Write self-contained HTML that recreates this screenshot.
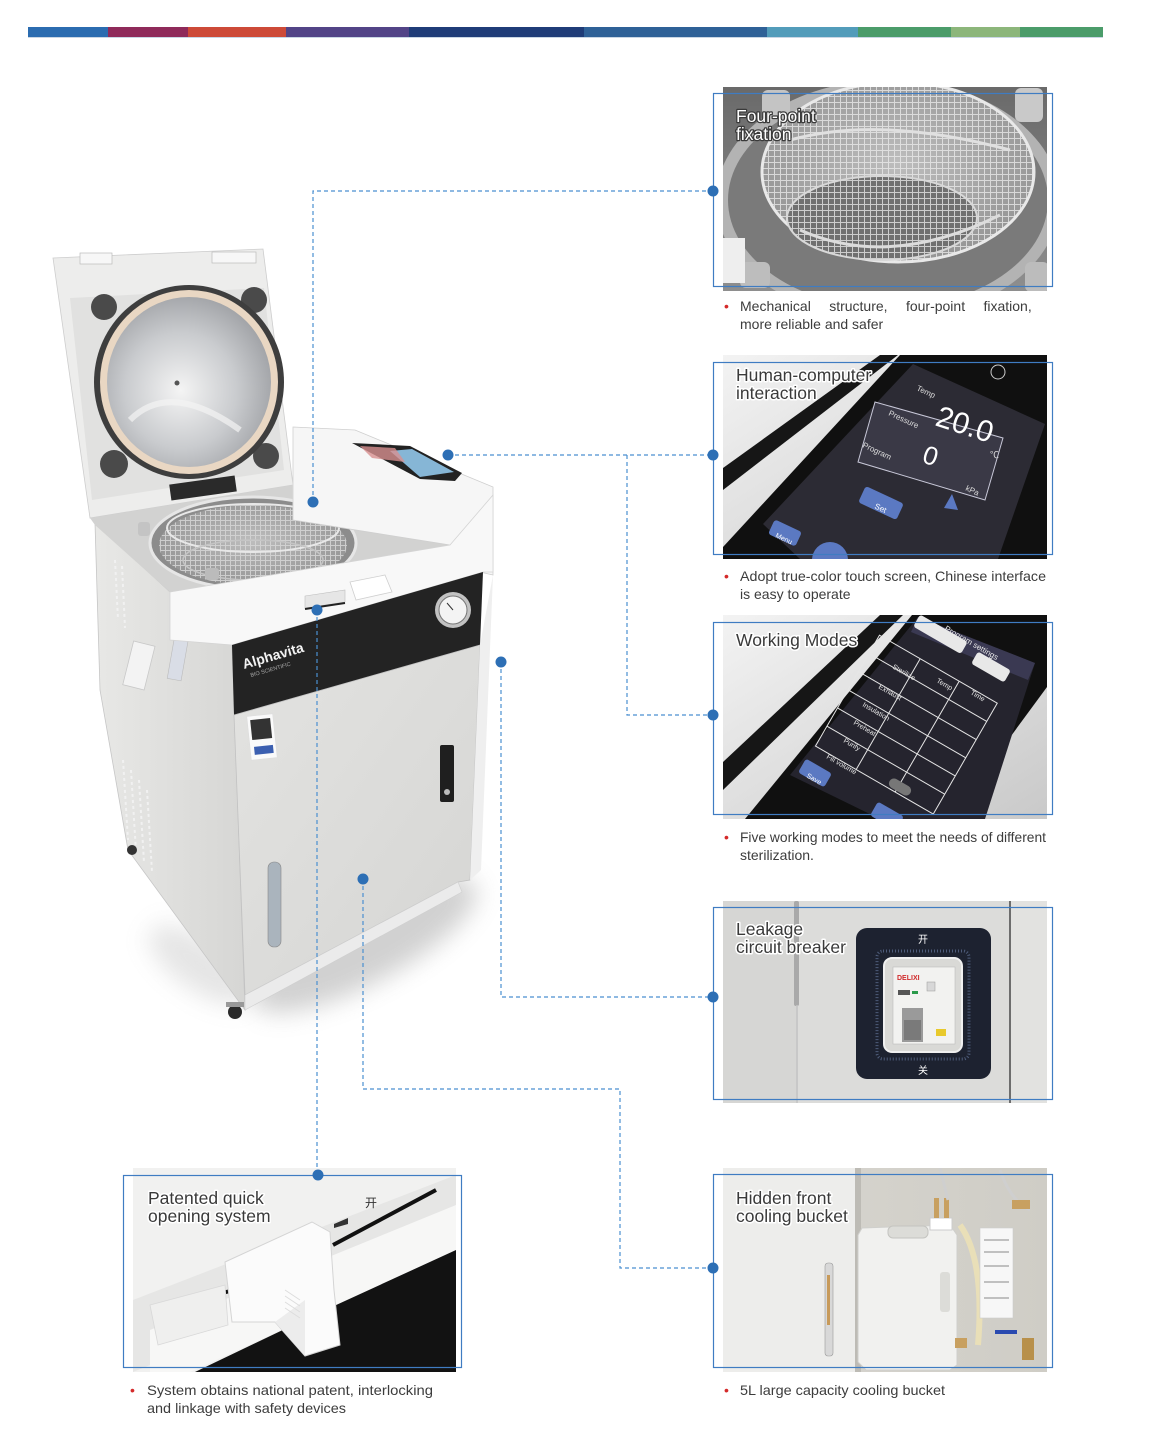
<!DOCTYPE html>
<html><head><meta charset="utf-8"><style>
html,body{margin:0;padding:0;background:#fff;}
svg{display:block;}
text{font-family:"Liberation Sans","Noto Sans CJK SC",sans-serif;}
</style></head><body>
<svg width="1151" height="1446" viewBox="0 0 1151 1446" xmlns="http://www.w3.org/2000/svg">
<defs>
<clipPath id="p1"><rect x="723" y="87" width="324" height="204"/></clipPath>
<clipPath id="p2"><rect x="723" y="355" width="324" height="204"/></clipPath>
<clipPath id="p3"><rect x="723" y="615" width="324" height="204"/></clipPath>
<clipPath id="p4"><rect x="723" y="901" width="324" height="202"/></clipPath>
<clipPath id="p5"><rect x="723" y="1168" width="324" height="204"/></clipPath>
<clipPath id="p6"><rect x="133" y="1168" width="323" height="204"/></clipPath>
<pattern id="mesh" width="6" height="6" patternUnits="userSpaceOnUse"><path d="M0 .5H6M.5 0V6" stroke="#ececec" stroke-width="1" fill="none" opacity=".75"/></pattern>
<pattern id="mesh2" width="5" height="5" patternUnits="userSpaceOnUse"><path d="M0 .5H5M.5 0V5" stroke="#d6d6d6" stroke-width="1" fill="none" opacity=".85"/></pattern>
<radialGradient id="win" cx="45%" cy="55%" r="62%"><stop offset="0" stop-color="#f4f4f4"/><stop offset=".55" stop-color="#c9cbce"/><stop offset="1" stop-color="#9a9ca0"/></radialGradient>
<radialGradient id="bask" cx="50%" cy="45%" r="60%"><stop offset="0" stop-color="#bdbdbd"/><stop offset="1" stop-color="#929292"/></radialGradient>
<linearGradient id="g2" x1="0" y1="0" x2="1" y2="1"><stop offset="0" stop-color="#f3f3f3"/><stop offset="1" stop-color="#c9c9c9"/></linearGradient>
<linearGradient id="side" x1="0" y1="0" x2="1" y2="0"><stop offset="0" stop-color="#e8e8e6"/><stop offset="1" stop-color="#d6d6d4"/></linearGradient>
<linearGradient id="door" x1="0" y1="0" x2="1" y2="1"><stop offset="0" stop-color="#e3e3e1"/><stop offset="1" stop-color="#d5d5d3"/></linearGradient>
<linearGradient id="p1bg" x1="0" y1="0" x2="0" y2="1"><stop offset="0" stop-color="#6a6a6a"/><stop offset="1" stop-color="#8e8e8e"/></linearGradient>
<linearGradient id="p5r" x1="0" y1="0" x2="1" y2="0"><stop offset="0" stop-color="#d8d6d0"/><stop offset="1" stop-color="#cfcdc6"/></linearGradient>
<filter id="bl" x="-50%" y="-50%" width="200%" height="200%"><feGaussianBlur stdDeviation="12"/></filter>
</defs>

<!-- top color bar -->
<rect x="28" y="27" width="80" height="10" fill="#2b6cb0"/>
<rect x="108" y="27" width="80" height="10" fill="#8f2a5a"/>
<rect x="188" y="27" width="98" height="10" fill="#cd4a38"/>
<rect x="286" y="27" width="123" height="10" fill="#524487"/>
<rect x="409" y="27" width="175" height="10" fill="#1f3c78"/>
<rect x="584" y="27" width="183" height="10" fill="#2f6197"/>
<rect x="767" y="27" width="91" height="10" fill="#529cba"/>
<rect x="858" y="27" width="93" height="10" fill="#4b9c6a"/>
<rect x="951" y="27" width="69" height="10" fill="#8cb67a"/>
<rect x="1020" y="27" width="83" height="10" fill="#4b9c6a"/>
<rect x="28" y="37" width="1075" height="1" fill="#c9d6e4"/>

<!-- ================= MAIN AUTOCLAVE ================= -->
<ellipse cx="365" cy="945" rx="125" ry="38" transform="rotate(-28 365 945)" fill="#9a9a9a" opacity=".45" filter="url(#bl)"/>
<ellipse cx="200" cy="965" rx="60" ry="25" transform="rotate(35 200 965)" fill="#aaa" opacity=".3" filter="url(#bl)"/>
<!-- lid -->
<polygon points="53,258 263,249 293,485 90,518" fill="#ededec" stroke="#cdcdcd" stroke-width=".8"/>
<polygon points="70,298 264,288 284,470 92,500" fill="#e1e1e0"/>
<rect x="80" y="253" width="32" height="11" fill="#f7f7f7" stroke="#bbb" stroke-width=".7"/>
<rect x="212" y="252" width="44" height="11" fill="#f7f7f7" stroke="#bbb" stroke-width=".7"/>
<circle cx="104" cy="307" r="13" fill="#4a4a4a"/>
<circle cx="254" cy="300" r="13" fill="#4a4a4a"/>
<circle cx="114" cy="464" r="14" fill="#4a4a4a"/>
<circle cx="266" cy="456" r="13" fill="#4a4a4a"/>
<ellipse cx="189" cy="382" rx="95" ry="97" fill="#3e3e3e"/>
<ellipse cx="189" cy="382" rx="89" ry="92" fill="#e9d7c3"/>
<ellipse cx="189" cy="382" rx="82" ry="85" fill="url(#win)"/>
<path d="M130 420 Q170 380 240 430" stroke="#f4f4f4" stroke-width="6" fill="none" opacity=".7"/>
<circle cx="177" cy="383" r="2.5" fill="#555"/>
<rect x="170" y="480" width="66" height="16" fill="#2a2a2a" transform="rotate(-8 203 488)"/>
<!-- side -->
<polygon points="95,523 170,592 232,645 245,1010 128,850 100,690" fill="url(#side)" stroke="#c6c6c6" stroke-width=".8"/>
<rect x="128" y="643" width="22" height="45" transform="rotate(14 139 665)" fill="#f3f3f3" stroke="#c8c8c8" stroke-width=".8"/>
<rect x="172" y="625" width="14" height="55" transform="rotate(10 179 652)" fill="#d9dde6" stroke="#bbb" stroke-width=".6"/>
<g stroke="#f1f1f1" stroke-width="2" stroke-dasharray="3 3">
<line x1="123" y1="760" x2="128" y2="840"/><line x1="131" y1="770" x2="136" y2="852"/><line x1="139" y1="780" x2="144" y2="862"/><line x1="147" y1="790" x2="152" y2="872"/>
<line x1="115" y1="560" x2="118" y2="620"/><line x1="122" y1="566" x2="125" y2="628"/>
</g>
<!-- deck -->
<polygon points="90,518 293,485 293,520 450,545 170,592 95,525" fill="#d2d2d1"/>
<ellipse cx="253" cy="543" rx="103" ry="46" fill="#8c8c8c" stroke="#e6e6e6" stroke-width="3"/>
<ellipse cx="253" cy="545" rx="94" ry="40" fill="url(#bask)"/>
<ellipse cx="253" cy="545" rx="94" ry="40" fill="url(#mesh2)"/>
<ellipse cx="253" cy="528" rx="86" ry="24" fill="none" stroke="#e8e8e8" stroke-width="2"/>
<ellipse cx="253" cy="560" rx="70" ry="20" fill="none" stroke="#c4c4c4" stroke-width="1.5"/>
<rect x="205" y="568" width="14" height="12" rx="3" fill="#bbb"/>
<rect x="138" y="522" width="12" height="14" rx="3" fill="#c4c4c4"/>
<!-- control box -->
<polygon points="293,427 355,430 493,487 493,575 480,572 450,545 293,520" fill="#f6f6f6" stroke="#cfcfcf" stroke-width=".8"/>
<line x1="293" y1="427" x2="293" y2="520" stroke="#d8d8d8"/>
<polygon points="352,443 410,446 462,473 455,481 420,479" fill="#222"/>
<polygon points="390,451 412,449 454,472 420,477" fill="#86b6d6"/>
<polygon points="360,446 395,448 405,462 372,458" fill="#d89090" opacity=".8"/>
<!-- front lip -->
<polygon points="170,592 450,545 493,495 493,572 483,572 232,645 170,640" fill="#f8f8f8" stroke="#d4d4d4" stroke-width=".8"/>
<polygon points="305,596 345,590 345,602 305,608" fill="#e6e6e6" stroke="#bdbdbd" stroke-width=".6"/>
<polygon points="350,582 385,575 392,592 356,600" fill="#fff" stroke="#cfcfcf" stroke-width=".8"/>
<line x1="305" y1="609" x2="345" y2="603" stroke="#222" stroke-width="2"/>
<!-- black band -->
<polygon points="232,645 483,572 480,645 234,715" fill="#232323"/>
<text x="244" y="669" transform="rotate(-16 244 669)" fill="#f2f2f2" font-size="14" font-weight="bold">Alphavita</text>
<text x="251" y="677" transform="rotate(-16 251 677)" fill="#aaa" font-size="5.5">BIO SCIENTIFIC</text>
<circle cx="453" cy="610" r="18" fill="#c2c2c2"/>
<circle cx="453" cy="610" r="14" fill="#f4f4f4" stroke="#777" stroke-width="1"/>
<line x1="453" y1="610" x2="447" y2="603" stroke="#333" stroke-width="1"/>
<!-- front door -->
<polygon points="234,715 480,645 470,880 458,882 245,995" fill="url(#door)" stroke="#c2c2c2" stroke-width=".8"/>
<polygon points="480,645 493,575 481,870 470,880" fill="#efefef"/>
<polygon points="245,995 458,882 462,892 245,1010" fill="#ebebeb" stroke="#cfcfcf" stroke-width=".6"/>
<rect x="249" y="715" width="26" height="44" fill="#fafafa" stroke="#ddd" stroke-width=".6" transform="rotate(-6 262 737)"/>
<rect x="252" y="719" width="20" height="20" fill="#333" transform="rotate(-6 262 737)"/>
<rect x="253" y="746" width="19" height="8" fill="#3b5fb0" transform="rotate(-6 262 737)"/>
<rect x="440" y="745" width="14" height="57" rx="2" fill="#1f1f1f"/>
<circle cx="447" cy="792" r="3" fill="#bbb"/>
<rect x="268" y="862" width="13" height="85" rx="6" fill="#aab4bd" stroke="#888" stroke-width=".6"/>
<circle cx="132" cy="850" r="5" fill="#333"/>
<circle cx="235" cy="1012" r="7" fill="#2a2a2a"/>
<rect x="226" y="1002" width="18" height="5" fill="#999"/>

<!-- ================= PANEL 1 ================= -->
<g clip-path="url(#p1)">
<rect x="723" y="87" width="324" height="204" fill="url(#p1bg)"/>
<ellipse cx="888" cy="200" rx="172" ry="120" fill="#b3b3b3"/>
<ellipse cx="888" cy="200" rx="160" ry="108" fill="#7a7a7a"/>
<ellipse cx="898" cy="172" rx="136" ry="90" fill="url(#bask)" stroke="#e8e8e8" stroke-width="3"/>
<ellipse cx="898" cy="172" rx="136" ry="90" fill="url(#mesh)"/>
<ellipse cx="882" cy="218" rx="95" ry="42" fill="#707070"/>
<ellipse cx="882" cy="218" rx="95" ry="42" fill="url(#mesh)"/>
<ellipse cx="882" cy="218" rx="95" ry="42" fill="none" stroke="#d8d8d8" stroke-width="2"/>
<path d="M790 140 Q880 115 1010 150" stroke="#e0e0e0" stroke-width="3" fill="none"/>
<path d="M800 230 Q890 270 1000 215" stroke="#dcdcdc" stroke-width="3" fill="none"/>
<rect x="762" y="90" width="28" height="30" rx="6" fill="#c4c4c4"/>
<rect x="1015" y="88" width="28" height="34" rx="6" fill="#c9c9c9"/>
<rect x="740" y="262" width="30" height="26" rx="6" fill="#bdbdbd"/>
<rect x="1025" y="262" width="24" height="30" rx="6" fill="#bcbcbc"/>
<rect x="723" y="238" width="22" height="45" fill="#eeeeee"/>
</g>
<text x="736" y="122" font-size="17.5" fill="#fff" stroke="#3a3a3a" stroke-width="2.5" paint-order="stroke" stroke-linejoin="round">Four-point</text>
<text x="736" y="140" font-size="17.5" fill="#fff" stroke="#3a3a3a" stroke-width="2.5" paint-order="stroke" stroke-linejoin="round">fixation</text>

<!-- ================= PANEL 2 ================= -->
<g clip-path="url(#p2)">
<rect x="723" y="355" width="324" height="204" fill="url(#g2)"/>
<polygon points="723,468 880,355 898,355 723,490" fill="#161616"/>
<polygon points="723,559 723,547 900,355 1047,355 1047,559" fill="#101010"/>
<polygon points="913,364 1045,424 998,559 800,559 763,524" fill="#2c2b34"/>
<polygon points="875,402 1003,438 985,500 858,462" fill="#3a3946" stroke="#c8c8d8" stroke-width="1"/>
<text x="934" y="425" font-size="30" fill="#fff" transform="rotate(18 934 425)">20.0</text>
<text x="921" y="462" font-size="26" fill="#fff" transform="rotate(18 921 462)">0</text>
<text x="916" y="390" font-size="8" fill="#ddd" transform="rotate(25 916 390)">Temp</text>
<text x="888" y="415" font-size="8" fill="#ddd" transform="rotate(25 888 415)">Pressure</text>
<text x="862" y="447" font-size="8" fill="#ddd" transform="rotate(25 862 447)">Program</text>
<text x="965" y="490" font-size="8" fill="#ddd" transform="rotate(25 965 490)">kPa</text>
<text x="990" y="458" font-size="9" fill="#ddd">℃</text>
<rect x="860" y="494" width="42" height="18" rx="3" fill="#5b79c2" transform="rotate(25 881 503)"/>
<text x="874" y="508" font-size="8" fill="#fff" transform="rotate(25 874 508)">Set</text>
<rect x="770" y="525" width="30" height="16" rx="3" fill="#5b79c2" transform="rotate(25 785 533)"/>
<text x="775" y="537" font-size="7" fill="#fff" transform="rotate(25 775 537)">Menu</text>
<circle cx="830" cy="560" r="18" fill="#5b79c2"/>
<polygon points="944,508 952,494 958,510" fill="#5b79c2"/>
<circle cx="998" cy="372" r="7" fill="none" stroke="#ccc" stroke-width="1"/>
</g>
<text x="736" y="381" font-size="17.5" fill="#3a3a3a" stroke="#fff" stroke-width="3" paint-order="stroke" stroke-linejoin="round">Human-computer</text>
<text x="736" y="399" font-size="17.5" fill="#3a3a3a" stroke="#fff" stroke-width="3" paint-order="stroke" stroke-linejoin="round">interaction</text>

<!-- ================= PANEL 3 ================= -->
<g clip-path="url(#p3)">
<rect x="723" y="615" width="324" height="204" fill="url(#g2)"/>
<polygon points="723,762 880,615 903,615 723,790" fill="#161616"/>
<polygon points="745,819 912,615 1047,615 1047,687 950,819" fill="#101010"/>
<polygon points="918,617 1035,663 985,819 880,819 790,775" fill="#25242e"/>
<polygon points="918,617 1035,663 1028,680 911,632" fill="#3a3952"/>
<g transform="rotate(30 905 725)" stroke="#e6e6e6" stroke-width="1" fill="none">
<rect x="838" y="660" width="136" height="128"/>
<line x1="838" y1="681" x2="974" y2="681"/><line x1="838" y1="702" x2="974" y2="702"/>
<line x1="838" y1="723" x2="974" y2="723"/><line x1="838" y1="744" x2="974" y2="744"/>
<line x1="838" y1="765" x2="974" y2="765"/>
<line x1="885" y1="660" x2="885" y2="788"/><line x1="930" y1="660" x2="930" y2="788"/>
</g>
<g font-size="7" fill="#e8e8e8">
<text x="944" y="630" font-size="8" transform="rotate(30 944 630)">Program settings</text>
<text x="892" y="668" transform="rotate(30 892 668)">Sterilize</text>
<text x="878" y="688" transform="rotate(30 878 688)">Exhaust</text>
<text x="862" y="706" transform="rotate(30 862 706)">Insulation</text>
<text x="853" y="724" transform="rotate(30 853 724)">Preheat</text>
<text x="843" y="742" transform="rotate(30 843 742)">Purify</text>
<text x="826" y="758" transform="rotate(30 826 758)">Fill volume</text>
<text x="936" y="682" transform="rotate(30 936 682)">Temp</text>
<text x="970" y="694" transform="rotate(30 970 694)">Time</text>
</g>
<rect x="913" y="627" width="55" height="14" rx="3" fill="#e8e8e8" transform="rotate(30 940 634)"/>
<rect x="972" y="660" width="38" height="14" rx="3" fill="#e8e8e8" transform="rotate(30 991 667)"/>
<rect x="800" y="765" width="30" height="16" rx="3" fill="#5b79c2" transform="rotate(30 815 773)"/>
<text x="806" y="777" font-size="7" fill="#fff" transform="rotate(30 806 777)">Save</text>
<rect x="872" y="808" width="30" height="16" rx="3" fill="#5b79c2" transform="rotate(30 887 816)"/>
<rect x="888" y="782" width="24" height="10" rx="5" fill="#777" transform="rotate(30 900 787)"/>
</g>
<text x="736" y="646" font-size="17.5" fill="#3a3a3a" stroke="#fff" stroke-width="3" paint-order="stroke" stroke-linejoin="round">Working Modes</text>

<!-- ================= PANEL 4 ================= -->
<g clip-path="url(#p4)">
<rect x="723" y="901" width="324" height="202" fill="#dcdcda"/>
<rect x="723" y="901" width="75" height="202" fill="#d6d6d4"/>
<rect x="794" y="901" width="5" height="105" rx="2" fill="#a9a9a9"/>
<line x1="797" y1="1005" x2="797" y2="1103" stroke="#c4c4c4" stroke-width="1.5"/>
<line x1="1010" y1="901" x2="1010" y2="1103" stroke="#6d6d6d" stroke-width="2"/>
<rect x="1011" y="901" width="36" height="202" fill="#e2e2e0"/>
<rect x="856" y="928" width="135" height="151" rx="11" fill="#1d2230"/>
<rect x="877" y="951" width="92" height="108" rx="6" fill="none" stroke="#5a6a8c" stroke-width="3" stroke-dasharray="1 2" opacity=".8"/>
<rect x="884" y="958" width="78" height="94" rx="8" fill="#d9d9d6" stroke="#f0f0f0" stroke-width="2"/>
<rect x="893" y="967" width="62" height="77" fill="#f2f2f0" stroke="#bdbdbd" stroke-width=".6"/>
<text x="897" y="980" font-size="7" font-weight="bold" fill="#d02a2a">DELIXI</text>
<rect x="898" y="990" width="12" height="5" fill="#555"/>
<rect x="912" y="991" width="6" height="3" fill="#2a9a4a"/>
<rect x="927" y="982" width="8" height="9" fill="#d8d8d8" stroke="#999" stroke-width=".5"/>
<rect x="902" y="1008" width="21" height="34" fill="#9a9a9a"/>
<rect x="904" y="1020" width="17" height="20" fill="#7a7a7a"/>
<rect x="936" y="1029" width="10" height="7" fill="#e8c92c"/>
<text x="918" y="943" font-size="10" fill="#fff">开</text>
<text x="918" y="1074" font-size="10" fill="#fff">关</text>
</g>
<text x="736" y="935" font-size="17.5" fill="#3a3a3a" stroke="#fff" stroke-width="3" paint-order="stroke" stroke-linejoin="round">Leakage</text>
<text x="736" y="953" font-size="17.5" fill="#3a3a3a" stroke="#fff" stroke-width="3" paint-order="stroke" stroke-linejoin="round">circuit breaker</text>

<!-- ================= PANEL 5 ================= -->
<g clip-path="url(#p5)">
<rect x="723" y="1168" width="324" height="204" fill="url(#p5r)"/>
<rect x="723" y="1168" width="134" height="204" fill="#ededeb"/>
<rect x="855" y="1168" width="6" height="204" fill="#bdbbb5"/>
<rect x="825" y="1263" width="8" height="93" rx="3" fill="#d8d8d8" stroke="#999" stroke-width=".6"/>
<rect x="827" y="1275" width="3" height="50" fill="#c79a5a"/>
<path d="M862 1228 L950 1225 L957 1235 L957 1365 L950 1370 L866 1370 L858 1362 L858 1235 Z" fill="#f1f1ef" stroke="#cfcfcc" stroke-width="1"/>
<rect x="888" y="1226" width="40" height="12" rx="5" fill="#dcdcd8" stroke="#c4c4c0"/>
<rect x="940" y="1272" width="10" height="40" rx="3" fill="#dcdcd8"/>
<rect x="930" y="1218" width="22" height="12" fill="#fff" stroke="#ccc"/>
<rect x="934" y="1198" width="5" height="20" fill="#c8a060"/>
<rect x="944" y="1198" width="5" height="20" fill="#c8a060"/>
<path d="M960 1225 Q985 1260 978 1345" stroke="#e9dfb8" stroke-width="6" fill="none"/>
<path d="M940 1168 L948 1200 M1000 1170 Q1010 1200 1030 1210" stroke="#cfcfcf" stroke-width="3" fill="none"/>
<rect x="980" y="1228" width="33" height="90" fill="#f7f7f7" stroke="#ccc" stroke-width=".6"/>
<g stroke="#888" stroke-width="1"><line x1="984" y1="1240" x2="1009" y2="1240"/><line x1="984" y1="1252" x2="1009" y2="1252"/><line x1="984" y1="1266" x2="1009" y2="1266"/><line x1="984" y1="1282" x2="1009" y2="1282"/><line x1="984" y1="1298" x2="1009" y2="1298"/></g>
<rect x="1012" y="1200" width="18" height="9" fill="#c8a060"/>
<rect x="1022" y="1338" width="12" height="22" fill="#b8904a"/>
<rect x="995" y="1330" width="22" height="4" fill="#2a4ab0"/>
<rect x="955" y="1338" width="12" height="10" fill="#c8a060"/>
</g>
<text x="736" y="1204" font-size="17.5" fill="#3a3a3a" stroke="#fff" stroke-width="3" paint-order="stroke" stroke-linejoin="round">Hidden front</text>
<text x="736" y="1222" font-size="17.5" fill="#3a3a3a" stroke="#fff" stroke-width="3" paint-order="stroke" stroke-linejoin="round">cooling bucket</text>

<!-- ================= PANEL 6 (bottom-left) ================= -->
<g clip-path="url(#p6)">
<rect x="133" y="1168" width="323" height="204" fill="#f1f1f0"/>
<polygon points="133,1300 456,1175 456,1240 133,1372" fill="#e6e6e5"/>
<polygon points="195,1372 456,1247 456,1372" fill="#121212"/>
<polygon points="150,1330 456,1205 456,1250 190,1372 150,1372" fill="#f7f7f6"/>
<line x1="158" y1="1310" x2="230" y2="1291" stroke="#111" stroke-width="4"/>
<line x1="333" y1="1245" x2="436" y2="1190" stroke="#111" stroke-width="4"/>
<polygon points="150,1305 225,1285 228,1325 158,1345" fill="#efefee" stroke="#d8d8d8" stroke-width=".8"/>
<path d="M225 1262 L312 1222 L330 1232 L334 1290 L340 1345 L305 1356 L282 1330 L275 1322 L232 1322 Z" fill="#fbfbfb" stroke="#d4d4d4" stroke-width="1"/>
<path d="M275 1322 L282 1330 L305 1356 L305 1300 Z" fill="#ececec"/>
<g stroke="#dcdcdc" stroke-width="1"><line x1="285" y1="1290" x2="300" y2="1300"/><line x1="285" y1="1296" x2="300" y2="1306"/><line x1="285" y1="1302" x2="300" y2="1312"/><line x1="285" y1="1308" x2="300" y2="1318"/></g>
<polygon points="334,1224 348,1218 348,1224 334,1228" fill="#333"/>
<text x="365" y="1207" font-size="12" fill="#333">开</text>
</g>
<text x="148" y="1204" font-size="17.5" fill="#3a3a3a" stroke="#fff" stroke-width="3" paint-order="stroke" stroke-linejoin="round">Patented quick</text>
<text x="148" y="1222" font-size="17.5" fill="#3a3a3a" stroke="#fff" stroke-width="3" paint-order="stroke" stroke-linejoin="round">opening system</text>

<!-- panel borders -->
<g fill="none" stroke="#3f7cc2" stroke-width="1.2">
<rect x="713.5" y="93.5" width="339" height="193"/>
<rect x="713.5" y="362.5" width="339" height="192"/>
<rect x="713.5" y="622.5" width="339" height="192"/>
<rect x="713.5" y="907.5" width="339" height="192"/>
<rect x="713.5" y="1174.5" width="339" height="193"/>
<rect x="123.5" y="1175.5" width="338" height="192"/>
</g>

<!-- connectors -->
<g fill="none" stroke="#4a8fd0" stroke-width="1.2" stroke-dasharray="4 3">
<polyline points="313,502 313,191 713,191"/>
<polyline points="448,455 713,455"/>
<polyline points="627,455 627,715 713,715"/>
<polyline points="317,610 317,1175"/>
<polyline points="501,662 501,997 713,997"/>
<polyline points="363,879 363,1089 620,1089 620,1268 713,1268"/>
</g>
<g fill="#2d6fb5">
<circle cx="313" cy="502" r="5.5"/>
<circle cx="448" cy="455" r="5.5"/>
<circle cx="317" cy="610" r="5.5"/>
<circle cx="501" cy="662" r="5.5"/>
<circle cx="363" cy="879" r="5.5"/>
<circle cx="713" cy="191" r="5.5"/>
<circle cx="713" cy="455" r="5.5"/>
<circle cx="713" cy="715" r="5.5"/>
<circle cx="713" cy="997" r="5.5"/>
<circle cx="713" cy="1268" r="5.5"/>
<circle cx="318" cy="1175" r="5.5"/>
</g>

<!-- captions -->
<g font-size="14" fill="#3c3c3c">
<text x="724" y="311" fill="#d42a2a">•</text>
<text x="740" y="311" word-spacing="14.5">Mechanical structure, four-point fixation,</text>
<text x="740" y="329">more reliable and safer</text>
<text x="724" y="581" fill="#d42a2a">•</text>
<text x="740" y="581" textLength="306" lengthAdjust="spacingAndGlyphs">Adopt true-color touch screen, Chinese interface</text>
<text x="740" y="599">is easy to operate</text>
<text x="724" y="842" fill="#d42a2a">•</text>
<text x="740" y="842" textLength="306" lengthAdjust="spacingAndGlyphs">Five working modes to meet the needs of different</text>
<text x="740" y="860">sterilization.</text>
<text x="724" y="1395" fill="#d42a2a">•</text>
<text x="740" y="1395" textLength="205" lengthAdjust="spacingAndGlyphs">5L large capacity cooling bucket</text>
<text x="130" y="1395" fill="#d42a2a">•</text>
<text x="147" y="1395" textLength="286" lengthAdjust="spacingAndGlyphs">System obtains national patent, interlocking</text>
<text x="147" y="1413" textLength="199" lengthAdjust="spacingAndGlyphs">and linkage with safety devices</text>
</g>
</svg>
</body></html>
